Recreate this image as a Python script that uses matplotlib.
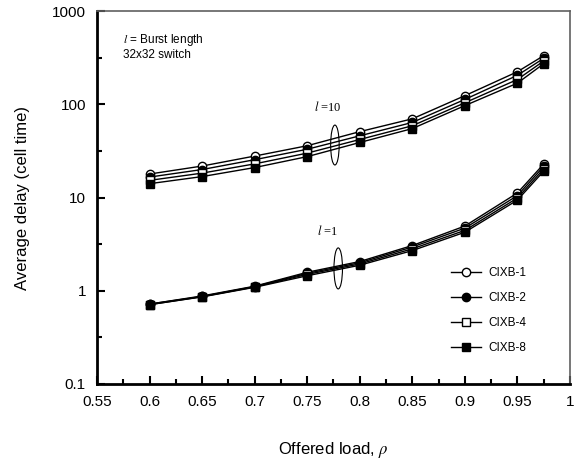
import matplotlib

matplotlib.use("Agg")
import matplotlib.pyplot as plt
from matplotlib.patches import Ellipse
from matplotlib.ticker import FixedLocator, NullFormatter

plt.rcParams["font.family"] = ["Liberation Sans", "DejaVu Sans"]
plt.rcParams["mathtext.fontset"] = "stix"

# offered load (x) shared by every curve
load = [0.6, 0.65, 0.7, 0.75, 0.8, 0.85, 0.9, 0.95, 0.975]

# burst length l = 10
cixb1_l10 = [17.9, 21.8, 27.9, 36.0, 51.0, 70.0, 124.0, 224.0, 333.0]
cixb2_l10 = [16.6, 20.0, 25.5, 33.0, 46.0, 64.0, 113.0, 205.0, 312.0]
cixb4_l10 = [15.3, 18.3, 23.0, 30.0, 42.0, 59.0, 104.0, 185.0, 292.0]
cixb8_l10 = [14.1, 16.8, 21.0, 27.5, 39.0, 55.0, 97.0, 169.0, 273.0]

# burst length l = 1
cixb1_l1 = [0.72, 0.88, 1.12, 1.58, 2.06, 3.06, 4.95, 11.2, 22.9]
cixb2_l1 = [0.72, 0.87, 1.11, 1.54, 2.00, 2.95, 4.70, 10.5, 21.6]
cixb4_l1 = [0.71, 0.865, 1.10, 1.50, 1.94, 2.82, 4.45, 9.9, 20.3]
cixb8_l1 = [0.71, 0.86, 1.09, 1.45, 1.88, 2.70, 4.25, 9.4, 19.2]

labels = ["CIXB-1", "CIXB-2", "CIXB-4", "CIXB-8"]
styles = [("o", "white"), ("o", "black"), ("s", "white"), ("s", "black")]

x_ticks = [0.55, 0.6, 0.65, 0.7, 0.75, 0.8, 0.85, 0.9, 0.95, 1.0]
x_tick_labels = ["0.55", "0.6", "0.65", "0.7", "0.75", "0.8", "0.85", "0.9", "0.95", "1"]
y_ticks = [0.1, 1, 10, 100, 1000]
y_tick_labels = ["0.1", "1", "10", "100", "1000"]

fig = plt.figure(figsize=(5.81, 4.66), dpi=100)
ax = fig.add_axes([0.167, 0.176, 0.814, 0.800])

series_l10 = [cixb1_l10, cixb2_l10, cixb4_l10, cixb8_l10]
series_l1 = [cixb1_l1, cixb2_l1, cixb4_l1, cixb8_l1]
for (marker, face), name, y10, y1 in zip(styles, labels, series_l10, series_l1):
    kw = dict(color="black", lw=1.0, marker=marker, ms=6, mfc=face, mec="black", mew=1.0)
    ax.plot(load, y10, label=name, **kw)
    ax.plot(load, y1, **kw)

ax.set_yscale("log")
ax.set_xlim(0.55, 1.0)
ax.set_ylim(0.1, 1000)

ax.xaxis.set_major_locator(FixedLocator(x_ticks))
ax.set_xticklabels(x_tick_labels)
ax.xaxis.set_minor_locator(FixedLocator([0.575 + 0.05 * i for i in range(9)]))
ax.yaxis.set_major_locator(FixedLocator(y_ticks))
ax.set_yticklabels(y_tick_labels)
ax.yaxis.set_minor_locator(FixedLocator([0.316, 3.16, 31.6, 316]))
ax.yaxis.set_minor_formatter(NullFormatter())

ax.tick_params(which="major", direction="in", length=6, width=1.5, labelsize=11, pad=8)
ax.tick_params(which="minor", direction="in", length=3.5, width=1.5)

for side in ("left", "bottom"):
    ax.spines[side].set_linewidth(2.0)
    ax.spines[side].set_color("black")
for side in ("top", "right"):
    ax.spines[side].set_linewidth(1.2)
    ax.spines[side].set_color("#606060")

ax.set_xlabel(r"Offered load, $\rho$", fontsize=12, labelpad=22)
ax.set_ylabel("Average delay (cell time)", fontsize=12, labelpad=16)

ax.text(0.055, 0.922, r"$l$ = Burst length", transform=ax.transAxes,
        fontsize=8.5, va="center", ha="left")
ax.text(0.055, 0.882, "32x32 switch", transform=ax.transAxes,
        fontsize=8.5, va="center", ha="left")

ax.text(0.488, 0.743, r"$l$ =10", transform=ax.transAxes, fontsize=9,
        family="Liberation Serif", va="center", ha="center")
ax.text(0.488, 0.410, r"$l$ =1", transform=ax.transAxes, fontsize=9,
        family="Liberation Serif", va="center", ha="center")

ax.add_patch(Ellipse((0.503, 0.641), 0.018, 0.107, transform=ax.transAxes,
                     fill=False, edgecolor="black", lw=0.8))
ax.add_patch(Ellipse((0.510, 0.310), 0.018, 0.110, transform=ax.transAxes,
                     fill=False, edgecolor="black", lw=0.8))

ax.legend(loc="upper left", bbox_to_anchor=(0.735, 0.33), frameon=False,
          fontsize=8.5, handlelength=2.6, handletextpad=0.6, labelspacing=1.1,
          borderpad=0.0)

fig.savefig("out.png", dpi=100)
